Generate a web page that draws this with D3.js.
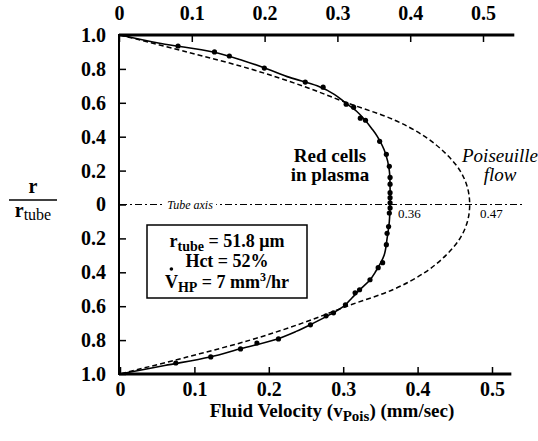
<!DOCTYPE html>
<html><head><meta charset="utf-8">
<script src="https://cdn.jsdelivr.net/npm/d3@7"></script>
<style>body{margin:0;background:#fff}svg{display:block}</style>
</head><body>
<svg id="c" width="538" height="441"></svg>
<script>
// ---- data ----
const xTicks = [0, 0.1, 0.2, 0.3, 0.4, 0.5];
const xTickLabels = ["0", "0.1", "0.2", "0.3", "0.4", "0.5"];
const yTicks = [1.0, 0.8, 0.6, 0.4, 0.2, 0, -0.2, -0.4, -0.6, -0.8, -1.0];
const yTickLabels = ["1.0", "0.8", "0.6", "0.4", "0.2", "0", "0.2", "0.4", "0.6", "0.8", "1.0"];

// measured red cell velocities (r / r_tube, velocity mm/sec)
const pointR = [0.935, 0.90, 0.876, 0.805, 0.722, 0.692, 0.592, 0.574, 0.509, 0.497, 0.373, 0.296, 0.225, 0.16, 0.12, 0.07, 0.04, 0.01,
  -0.02, -0.05, -0.13, -0.17, -0.237, -0.343, -0.373, -0.444, -0.503, -0.521, -0.592, -0.639, -0.657, -0.71, -0.793, -0.817, -0.852, -0.899, -0.935];
const pointV = [0.078, 0.127, 0.147, 0.194, 0.249, 0.273, 0.304, 0.314, 0.323, 0.330, 0.349, 0.358, 0.362, 0.363, 0.363, 0.363, 0.363, 0.363,
  0.363, 0.362, 0.361, 0.359, 0.358, 0.353, 0.347, 0.336, 0.322, 0.316, 0.303, 0.287, 0.277, 0.256, 0.213, 0.184, 0.162, 0.122, 0.075];

// fitted curve through red cell data
const fitR = [1.0, 0.95, 0.9, 0.85, 0.8, 0.75, 0.7, 0.65, 0.6, 0.55, 0.5, 0.45, 0.4, 0.3, 0.2, 0.1, 0,
  -0.1, -0.2, -0.3, -0.4, -0.45, -0.5, -0.55, -0.6, -0.65, -0.7, -0.75, -0.8, -0.85, -0.9, -0.95, -1.0];
const fitV = [0, 0.055, 0.125, 0.165, 0.198, 0.228, 0.265, 0.288, 0.303, 0.318, 0.329, 0.338, 0.346, 0.357, 0.362, 0.363, 0.363,
  0.362, 0.359, 0.355, 0.343, 0.335, 0.323, 0.312, 0.301, 0.282, 0.26, 0.236, 0.207, 0.163, 0.121, 0.06, 0];

// Poiseuille flow profile
const poisR = [1.0, 0.9, 0.8, 0.7, 0.6, 0.5, 0.4, 0.3, 0.2, 0.1, 0, -0.1, -0.2, -0.3, -0.4, -0.5, -0.6, -0.7, -0.8, -0.9, -1.0];
const poisV = [0, 0.09, 0.175, 0.245, 0.305, 0.368, 0.410, 0.438, 0.457, 0.467, 0.47, 0.467, 0.457, 0.438, 0.410, 0.368, 0.305, 0.245, 0.175, 0.09, 0];

// ---- chart ----
const svg = d3.select("#c");
const FONT = "'Liberation Serif','Times New Roman',serif";
const x = d3.scaleLinear().domain([0, 0.5]).range([120, 492]);
const xTop = d3.scaleLinear().domain([0, 0.5]).range([119, 483]);
const y = d3.scaleLinear().domain([-1, 1]).range([374, 35]);

// axes
const gB = svg.append("g").attr("transform", `translate(0,${y(-1)})`)
  .call(d3.axisBottom(x).tickValues(xTicks).tickFormat((d, i) => xTickLabels[i]).tickSize(-7).tickPadding(8));
const gT = svg.append("g").attr("transform", `translate(0,${y(1)})`)
  .call(d3.axisTop(xTop).tickValues(xTicks).tickFormat((d, i) => xTickLabels[i]).tickSize(-7).tickPadding(15));
const gL = svg.append("g").attr("transform", `translate(${x(0) - 1},0)`)
  .call(d3.axisLeft(y).tickValues(yTicks).tickFormat((d, i) => yTickLabels[i]).tickSize(-7).tickPadding(13));
[gB, gT, gL].forEach(g => {
  g.select(".domain").remove();
  g.selectAll(".tick line").attr("stroke", "#000").attr("stroke-width", 1.5);
  g.selectAll(".tick text").attr("font-family", FONT).attr("font-weight", "bold").attr("font-size", 20).attr("fill", "#000");
});

// frame lines
svg.append("line").attr("x1", x(0) - 1).attr("x2", xTop(0.543)).attr("y1", y(1)).attr("y2", y(1))
  .attr("stroke", "#000").attr("stroke-width", 3);
svg.append("line").attr("x1", x(0) - 1).attr("x2", x(0.526)).attr("y1", y(-1)).attr("y2", y(-1))
  .attr("stroke", "#000").attr("stroke-width", 3);
svg.append("line").attr("x1", x(0) - 1).attr("x2", x(0) - 1).attr("y1", y(1) - 1).attr("y2", y(-1) + 1)
  .attr("stroke", "#000").attr("stroke-width", 2);

// tube axis
svg.append("line").attr("x1", x(0)).attr("x2", x(0.541)).attr("y1", y(0)).attr("y2", y(0))
  .attr("stroke", "#000").attr("stroke-width", 1.1).attr("stroke-dasharray", "7,3,2,3");
const taBg = svg.append("rect").attr("fill", "#fff");
const ta = svg.append("text").attr("x", 190).attr("y", y(0) + 4).attr("text-anchor", "middle")
  .attr("font-family", FONT).attr("font-style", "italic").attr("font-size", 12).text("Tube axis");
const tb = ta.node().getBBox();
taBg.attr("x", tb.x - 3).attr("y", tb.y).attr("width", tb.width + 6).attr("height", tb.height);

// Poiseuille dashed
const line = d3.line().x(d => x(d[1])).y(d => y(d[0])).curve(d3.curveCatmullRom);
svg.append("path").datum(poisR.map((r, i) => [r, poisV[i]])).attr("d", line)
  .attr("fill", "none").attr("stroke", "#000").attr("stroke-width", 1.5).attr("stroke-dasharray", "5,3");
// fit solid
svg.append("path").datum(fitR.map((r, i) => [r, fitV[i]])).attr("d", line)
  .attr("fill", "none").attr("stroke", "#000").attr("stroke-width", 1.6);
// dots
svg.append("g").selectAll("circle").data(pointR.map((r, i) => [r, pointV[i]])).join("circle")
  .attr("cx", d => x(d[1])).attr("cy", d => y(d[0])).attr("r", 2.6).attr("fill", "#000");

// value labels
svg.append("text").attr("x", 398).attr("y", 218).attr("font-family", FONT).attr("font-size", 13).text("0.36");
svg.append("text").attr("x", 480).attr("y", 218).attr("font-family", FONT).attr("font-size", 13).text("0.47");

// curve labels
[["Red cells", 162], ["in plasma", 181]].forEach(([t, yy]) =>
  svg.append("text").attr("x", 330).attr("y", yy).attr("text-anchor", "middle").attr("font-family", FONT)
    .attr("font-weight", "bold").attr("font-size", 19).text(t));
[["Poiseuille", 162], ["flow", 181]].forEach(([t, yy]) =>
  svg.append("text").attr("x", 500).attr("y", yy).attr("text-anchor", "middle").attr("font-family", FONT)
    .attr("font-style", "italic").attr("font-size", 19).text(t));

// y label
svg.append("text").attr("x", 33).attr("y", 193).attr("text-anchor", "middle")
  .attr("font-family", FONT).attr("font-weight", "bold").attr("font-size", 20).text("r");
svg.append("line").attr("x1", 9).attr("x2", 57).attr("y1", 200).attr("y2", 200).attr("stroke", "#000").attr("stroke-width", 1.5);
const yl2 = svg.append("text").attr("x", 33).attr("y", 217).attr("text-anchor", "middle").attr("font-family", FONT).attr("font-size", 20);
yl2.append("tspan").attr("font-weight", "bold").text("r");
yl2.append("tspan").attr("font-size", 16).attr("dy", 3).text("tube");

// x title
const xt = svg.append("text").attr("x", 332).attr("y", 417).attr("text-anchor", "middle")
  .attr("font-family", FONT).attr("font-weight", "bold").attr("font-size", 19);
xt.append("tspan").text("Fluid Velocity (v");
xt.append("tspan").attr("font-size", 15).attr("dy", 4).text("Pois");
xt.append("tspan").attr("dy", -4).text(") (mm/sec)");

// legend box
svg.append("rect").attr("x", 147).attr("y", 225).attr("width", 160).attr("height", 73)
  .attr("fill", "#fff").attr("stroke", "#000").attr("stroke-width", 1.5);
const lg = svg.append("g").attr("font-family", FONT).attr("font-weight", "bold").attr("font-size", 18);
const l1 = lg.append("text").attr("x", 227).attr("y", 247).attr("text-anchor", "middle");
l1.append("tspan").text("r");
l1.append("tspan").attr("font-size", 14).attr("dy", 4).text("tube");
l1.append("tspan").attr("dy", -4).text(" = 51.8 \u03bcm");
lg.append("text").attr("x", 227).attr("y", 267).attr("text-anchor", "middle").text("Hct = 52%");
const l3 = lg.append("text").attr("x", 227).attr("y", 288).attr("text-anchor", "middle");
l3.append("tspan").text("V");
l3.append("tspan").attr("font-size", 14).attr("dy", 4).text("HP");
l3.append("tspan").attr("dy", -4).text(" = 7 mm");
l3.append("tspan").attr("font-size", 12).attr("dy", -7).text("3");
l3.append("tspan").attr("dy", 7).text("/hr");
// dot over V
const ext = l3.node().getExtentOfChar(0);
svg.append("circle").attr("cx", ext.x + ext.width / 2).attr("cy", 269).attr("r", 1.8).attr("fill", "#000");
</script>
</body></html>
